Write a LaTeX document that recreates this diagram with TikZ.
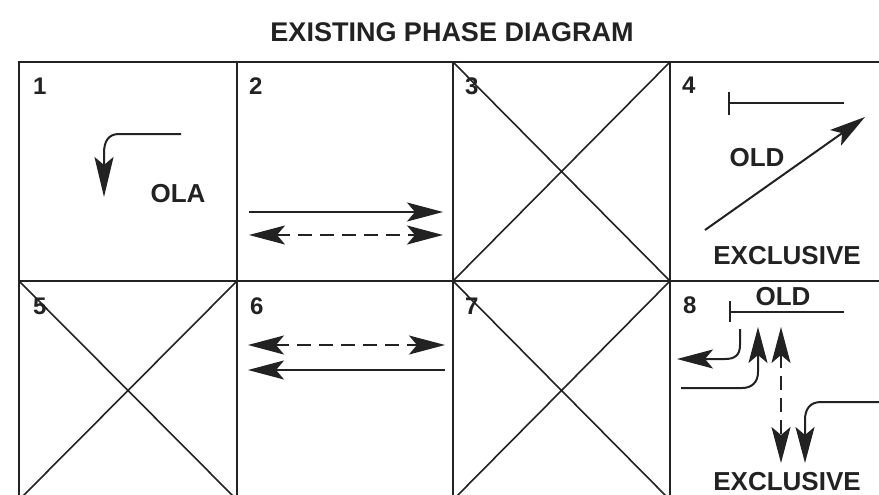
\documentclass[tikz,border=0pt]{standalone}
\usepackage{fontspec}
\setmainfont{Liberation Sans}
\usetikzlibrary{arrows.meta}
\definecolor{ink}{HTML}{222222}
\tikzset{
  grid/.style={draw=ink, line width=2pt},
  tipa/.tip={Stealth[length=36pt,width=19pt,inset=8pt]},
  arr/.style={draw=ink, line width=2pt, -tipa},
  darr/.style={draw=ink, line width=2pt, dash pattern=on 14pt off 8pt, tipa-tipa},
  lbl/.style={font=\fontsize{26}{30}\selectfont\bfseries, text=ink, inner sep=0pt, anchor=base},
  ttl/.style={font=\fontsize{27}{32}\selectfont\bfseries, text=ink, inner sep=0pt, anchor=base},
  num/.style={font=\fontsize{24}{28}\selectfont\bfseries, text=ink, inner sep=0pt, anchor=base west},
  bar/.style={draw=ink, line width=1.6pt}
}
\begin{document}
\begin{tikzpicture}[x=1pt,y=-1pt]
\useasboundingbox (0,0) rectangle (879,495);
\fill[white] (0,0) rectangle (879,495);
\clip (0,0) rectangle (879,495);
% title
\node[ttl] (title) at (452,42) {EXISTING PHASE DIAGRAM};
% grid
\draw[grid] (19,62) rectangle (887,500);
\draw[grid] (19,281) -- (887,281);
\draw[grid] (237,62) -- (237,500);
\draw[grid] (453,62) -- (453,500);
\draw[grid] (670,62) -- (670,500);
% crossed cells
\draw[grid, line width=1.6pt] (453,62) -- (670,281) (670,62) -- (453,281);
\draw[grid, line width=1.6pt] (19,281) -- (237,500) (237,281) -- (19,500);
\draw[grid, line width=1.6pt] (453,281) -- (670,500) (670,281) -- (453,500);
% numbers
\node[num] (n1) at (33,95) {1};
\node[num] (n2) at (249,95) {2};
\node[num] (n3) at (465,95) {3};
\node[num] (n4) at (682,94) {4};
\node[num] (n5) at (33,314) {5};
\node[num] (n6) at (250,314) {6};
\node[num] (n7) at (465,314) {7};
\node[num] (n8) at (683,313) {8};
% cell 1
\node[lbl] (ola) at (178,202) {OLA};
\coordinate (c1s) at (181,134);
\coordinate (c1e) at (104,197);
\draw[draw=ink, line width=2pt, -{Stealth[length=40pt,width=19pt,inset=8pt]}]
  (c1s) -- (119,134) .. controls (108,134) and (104,142) .. (104,153) -- (c1e);
% cell 2
\coordinate (c2a) at (249,212);
\coordinate (c2b) at (443,212);
\coordinate (c2c) at (249,235);
\coordinate (c2d) at (443,235);
\draw[arr] (c2a) -- (c2b);
\draw[darr] (c2c) -- (c2d);
% cell 4
\coordinate (b4t) at (729,92);
\coordinate (b4b) at (729,115);
\coordinate (b4l) at (729,103);
\coordinate (b4r) at (844,103);
\draw[bar] (b4t) -- (b4b);
\draw[bar] (b4l) -- (b4r);
\node[lbl] (old4) at (757,166) {OLD};
\node[lbl] (exc4) at (787,264) {EXCLUSIVE};
\coordinate (a4s) at (705,230);
\coordinate (a4e) at (865,117);
\draw[arr] (a4s) -- (a4e);
% cell 6
\coordinate (c6a) at (248,345);
\coordinate (c6b) at (445,345);
\coordinate (c6c) at (445,370);
\coordinate (c6d) at (248,370);
\draw[darr] (c6a) -- (c6b);
\draw[arr] (c6c) -- (c6d);
% cell 8
\coordinate (b8t) at (730,301);
\coordinate (b8b) at (730,322);
\coordinate (b8l) at (730,312);
\coordinate (b8r) at (844,312);
\draw[bar] (b8t) -- (b8b);
\draw[bar] (b8l) -- (b8r);
\node[lbl] (old8) at (783,305) {OLD};
\node[lbl] (exc8) at (787,490) {EXCLUSIVE};
\coordinate (aAs) at (740,329);
\coordinate (aAe) at (677,359);
\draw[arr] (aAs) -- (740,345) .. controls (740,355) and (735,359) .. (725,359) -- (aAe);
\coordinate (aBs) at (681,388);
\coordinate (aBe) at (758,327);
\draw[arr] (aBs) -- (742,388) .. controls (752,388) and (758,382) .. (758,372) -- (aBe);
\coordinate (aCs) at (781,327);
\coordinate (aCe) at (781,463);
\draw[darr] (aCs) -- (aCe);
\coordinate (aDs) at (879,402);
\coordinate (aDe) at (805,463);
\draw[arr] (aDs) -- (821,402) .. controls (810,402) and (805,409) .. (805,420) -- (aDe);
\end{tikzpicture}
\end{document}
